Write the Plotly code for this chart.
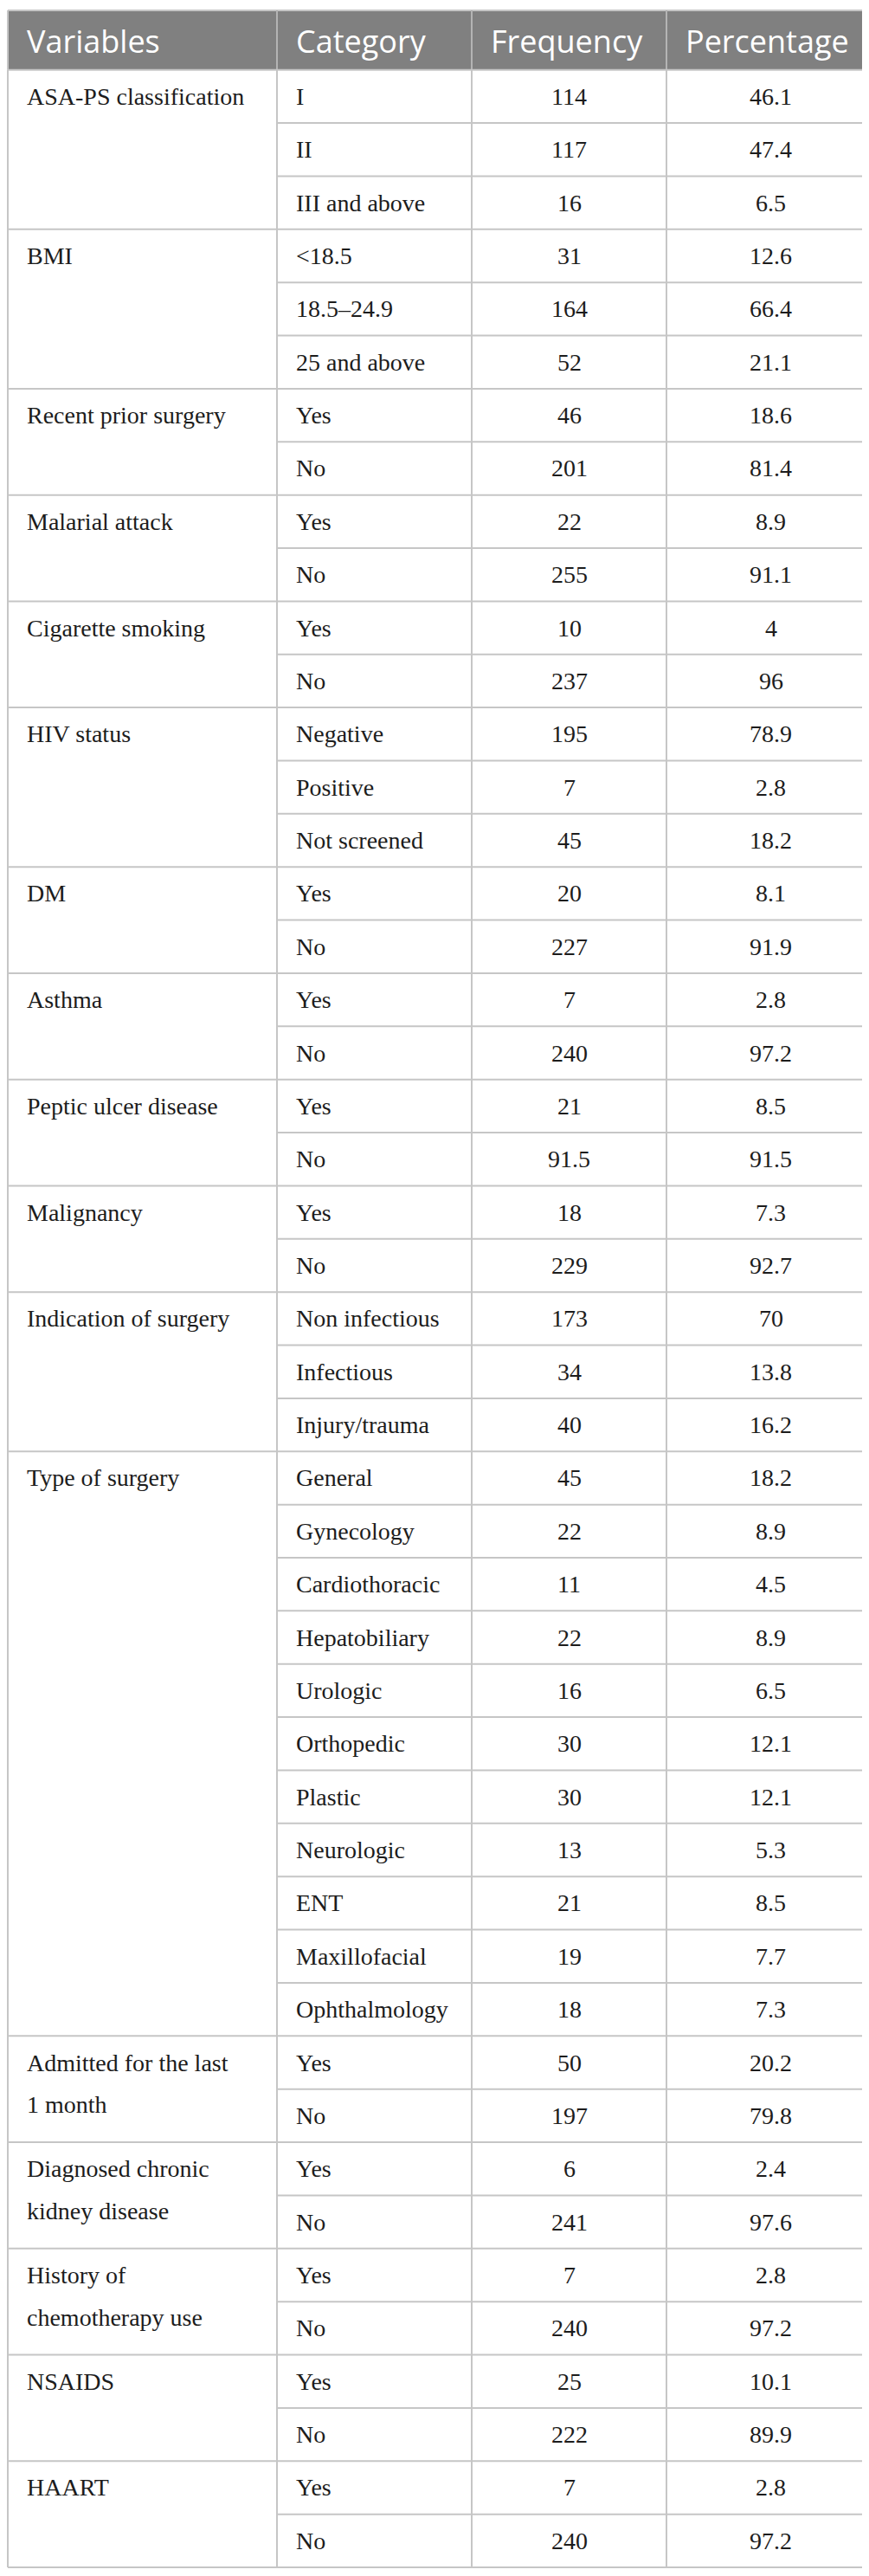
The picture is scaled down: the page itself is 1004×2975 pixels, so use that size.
import plotly.graph_objects as go

# ---------------- data ----------------
headers = ["Variables", "Category", "Frequency", "Percentage"]

variables = [
    "ASA-PS classification", "BMI", "Recent prior surgery", "Malarial attack",
    "Cigarette smoking", "HIV status", "DM", "Asthma", "Peptic ulcer disease",
    "Malignancy", "Indication of surgery", "Type of surgery",
    "Admitted for the last|1 month", "Diagnosed chronic|kidney disease",
    "History of|chemotherapy use", "NSAIDS", "HAART",
]
group_sizes = [3, 3, 2, 2, 2, 3, 2, 2, 2, 2, 3, 11, 2, 2, 2, 2, 2]

categories = [
    "I", "II", "III and above",
    "<18.5", "18.5–24.9", "25 and above",
    "Yes", "No",
    "Yes", "No",
    "Yes", "No",
    "Negative", "Positive", "Not screened",
    "Yes", "No",
    "Yes", "No",
    "Yes", "No",
    "Yes", "No",
    "Non infectious", "Infectious", "Injury/trauma",
    "General", "Gynecology", "Cardiothoracic", "Hepatobiliary", "Urologic",
    "Orthopedic", "Plastic", "Neurologic", "ENT", "Maxillofacial", "Ophthalmology",
    "Yes", "No",
    "Yes", "No",
    "Yes", "No",
    "Yes", "No",
    "Yes", "No",
]
frequency = [
    114, 117, 16,
    31, 164, 52,
    46, 201,
    22, 255,
    10, 237,
    195, 7, 45,
    20, 227,
    7, 240,
    21, 91.5,
    18, 229,
    173, 34, 40,
    45, 22, 11, 22, 16, 30, 30, 13, 21, 19, 18,
    50, 197,
    6, 241,
    7, 240,
    25, 222,
    7, 240,
]
percentage = [
    46.1, 47.4, 6.5,
    12.6, 66.4, 21.1,
    18.6, 81.4,
    8.9, 91.1,
    4, 96,
    78.9, 2.8, 18.2,
    8.1, 91.9,
    2.8, 97.2,
    8.5, 91.5,
    7.3, 92.7,
    70, 13.8, 16.2,
    18.2, 8.9, 4.5, 8.9, 6.5, 12.1, 12.1, 5.3, 8.5, 7.7, 7.3,
    20.2, 79.8,
    2.4, 97.6,
    2.8, 97.2,
    10.1, 89.9,
    2.8, 97.2,
]

# ---------------- layout geometry ----------------
W, H = 1004, 2975
col_edges = [1, 312, 537, 762, 1003]
head_top, head_bot = 4, 72.7
table_bot = 2957
n_rows = len(categories)
row_h = (table_bot - head_bot) / n_rows
line_col = "#c6c6c6"
head_bg = "#808080"
line_gap = 48.7
serif = "Liberation Serif"
sans = "Open Sans"
fs_body = 28
fs_head = 36
txt_col = "#1c1c1c"


def row_top(i):
    return head_bot + i * row_h


def row_mid(i):
    return head_bot + (i + 0.5) * row_h


shapes = []
annotations = []

shapes.append(dict(type="rect", xref="x", yref="y", x0=col_edges[0], x1=col_edges[-1],
                   y0=head_top, y1=head_bot, fillcolor=head_bg, line=dict(width=0), layer="below"))
shapes.append(dict(type="line", xref="x", yref="y", x0=col_edges[0], x1=col_edges[-1],
                   y0=head_top, y1=head_top, line=dict(color=line_col, width=2)))
for x in col_edges[1:-1]:
    shapes.append(dict(type="line", xref="x", yref="y", x0=x, x1=x, y0=head_top, y1=head_bot,
                       line=dict(color="#b4b4b4", width=2)))
for x in (col_edges[0], col_edges[-1]):
    shapes.append(dict(type="line", xref="x", yref="y", x0=x, x1=x, y0=head_top, y1=head_bot,
                       line=dict(color=line_col, width=2)))
for x in col_edges:
    shapes.append(dict(type="line", xref="x", yref="y", x0=x, x1=x, y0=head_bot, y1=table_bot,
                       line=dict(color=line_col, width=2)))

group_starts = []
s = 0
for g in group_sizes:
    group_starts.append(s)
    s += g
group_start_set = set(group_starts)

for i in range(n_rows + 1):
    y = row_top(i)
    x0 = col_edges[0] if (i in group_start_set or i == n_rows) else col_edges[1]
    shapes.append(dict(type="line", xref="x", yref="y", x0=x0, x1=col_edges[-1], y0=y, y1=y,
                       line=dict(color=line_col, width=2)))

for k, h in enumerate(headers):
    annotations.append(dict(x=col_edges[k] + 20, y=(head_top + head_bot) / 2 + 1, xref="x", yref="y",
                            text=h, showarrow=False, xanchor="left", yanchor="middle",
                            font=dict(family=sans, size=fs_head, color="white")))

for name, start in zip(variables, group_starts):
    for j, part in enumerate(name.split("|")):
        annotations.append(dict(x=col_edges[0] + 20, y=row_mid(start) + j * line_gap, xref="x", yref="y",
                                text=part, showarrow=False, xanchor="left", yanchor="middle",
                                font=dict(family=serif, size=fs_body, color=txt_col)))

for i in range(n_rows):
    ym = row_mid(i)
    annotations.append(dict(x=col_edges[1] + 20, y=ym, xref="x", yref="y", text=categories[i],
                            showarrow=False, xanchor="left", yanchor="middle",
                            font=dict(family=serif, size=fs_body, color=txt_col)))
    annotations.append(dict(x=(col_edges[2] + col_edges[3]) / 2, y=ym, xref="x", yref="y",
                            text=f"{frequency[i]:g}", showarrow=False, xanchor="center", yanchor="middle",
                            font=dict(family=serif, size=fs_body, color=txt_col)))
    annotations.append(dict(x=(col_edges[3] + col_edges[4]) / 2, y=ym, xref="x", yref="y",
                            text=f"{percentage[i]:g}", showarrow=False, xanchor="center", yanchor="middle",
                            font=dict(family=serif, size=fs_body, color=txt_col)))

fig = go.Figure()
fig.add_trace(go.Scatter(x=[0, W], y=[0, H], mode="markers", marker=dict(opacity=0),
                         hoverinfo="skip", showlegend=False))
fig.update_layout(
    width=W, height=H,
    margin=dict(l=0, r=0, t=0, b=0),
    paper_bgcolor="white", plot_bgcolor="white",
    xaxis=dict(range=[0, W], visible=False, fixedrange=True),
    yaxis=dict(range=[H, 0], visible=False, fixedrange=True),
    shapes=shapes, annotations=annotations,
    showlegend=False,
)
fig.write_html("out.html")
